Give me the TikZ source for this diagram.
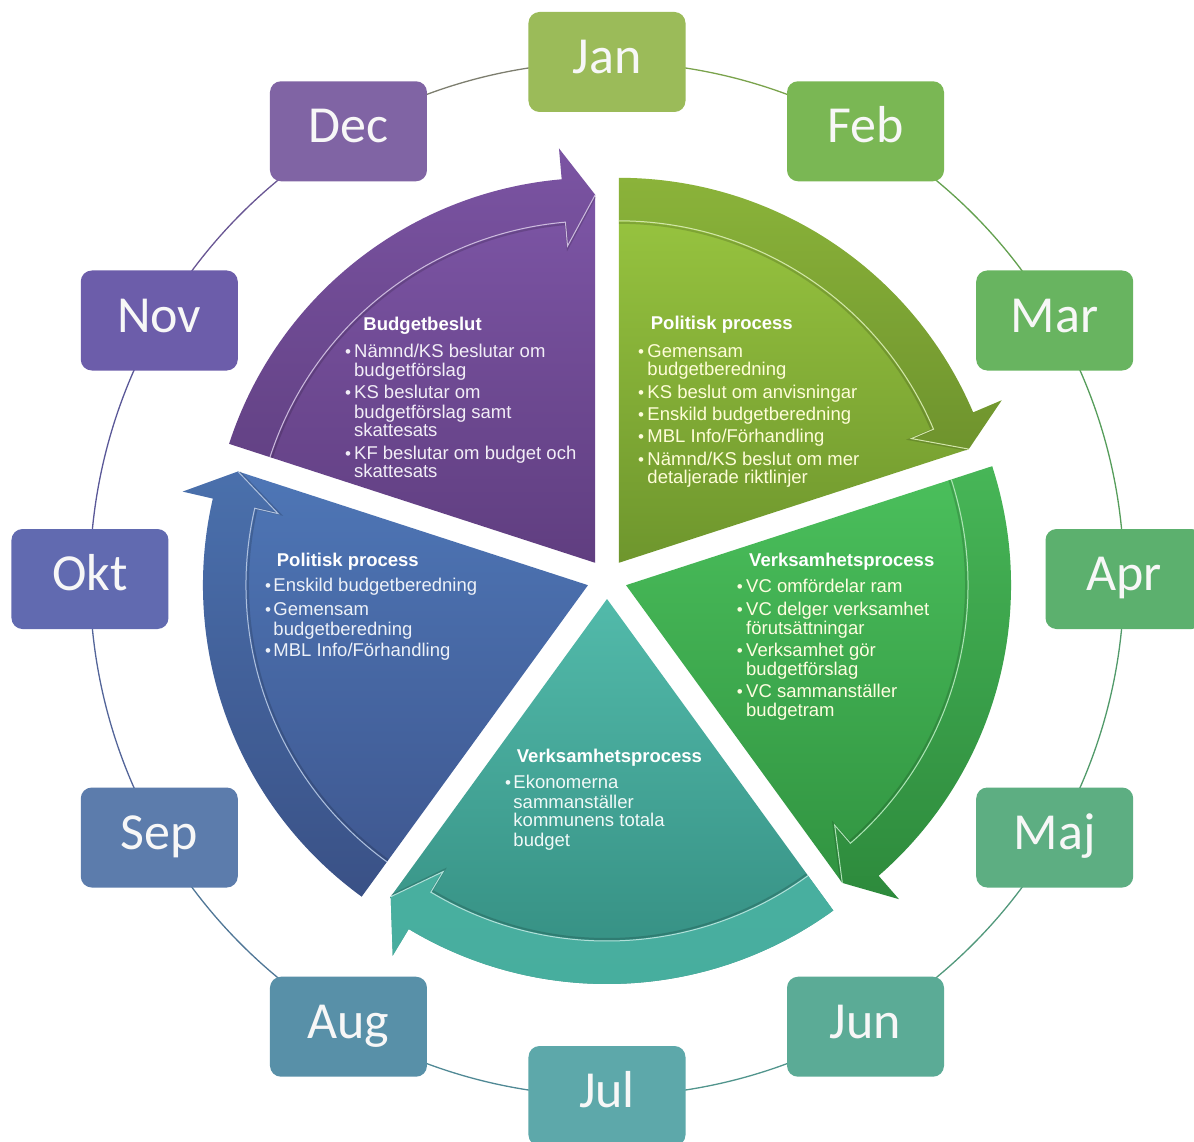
\documentclass[tikz,border=0pt]{standalone}
\usepackage{fontspec}
\setmainfont{Liberation Sans}
\newfontfamily\monthfont{Carlito}
\usetikzlibrary{calc}
\pgfdeclarelayer{background}
\pgfsetlayers{background,main}

% month colours
\definecolor{mjan}{RGB}{155,187,89}
\definecolor{mfeb}{RGB}{122,183,84}
\definecolor{mmar}{RGB}{104,180,96}
\definecolor{mapr}{RGB}{92,176,110}
\definecolor{mmaj}{RGB}{93,174,130}
\definecolor{mjun}{RGB}{91,171,150}
\definecolor{mjul}{RGB}{93,168,170}
\definecolor{maug}{RGB}{88,144,168}
\definecolor{msep}{RGB}{92,124,172}
\definecolor{mokt}{RGB}{97,106,176}
\definecolor{mnov}{RGB}{108,93,170}
\definecolor{mdec}{RGB}{128,100,164}
% sector colours
\definecolor{pT}{RGB}{128,88,170}\definecolor{pB}{RGB}{96,62,128}
\definecolor{gT}{RGB}{155,200,65}\definecolor{gB}{RGB}{110,150,45}
\definecolor{hT}{RGB}{75,192,92}\definecolor{hB}{RGB}{48,146,64}
\definecolor{tT}{RGB}{82,186,170}\definecolor{tB}{RGB}{50,138,126}
\definecolor{tBand}{RGB}{74,178,162}
\definecolor{bT}{RGB}{78,118,182}\definecolor{bB}{RGB}{62,86,142}

\newcommand\drawsector[7]{%
  \pgfmathsetmacro\aone{#2+36}%
  \pgfmathsetmacro\atwo{#2-36}%
  \pgfmathsetmacro\abase{#2-31}%
  \coordinate (#1P) at (#2:20pt);
  \shade[top color=#3, bottom color=#4]
    (#1P) -- ($(#1P)+(\aone:385pt)$)
    arc[start angle=\aone, end angle=\abase, radius=385pt]
    -- ($(#1P)+(\abase:416pt)$) -- ($(#1P)+(\atwo:368pt)$) -- cycle;
  \fill[#5, opacity=#6]
    ($(#1P)+(\aone:342pt)$) -- ($(#1P)+(\aone:385pt)$)
    arc[start angle=\aone, end angle=\abase, radius=385pt]
    -- ($(#1P)+(\abase:416pt)$) -- ($(#1P)+(\atwo:368pt)$)
    -- ($(#1P)+(\abase:318pt)$) -- ($(#1P)+(\abase:342pt)$)
    arc[start angle=\abase, end angle=\aone, radius=342pt] -- cycle;
  \draw[black, opacity=0.15, line width=2pt]
    ($(#1P)+(\aone:340pt)$) arc[start angle=\aone, end angle=\abase, radius=340pt]
    -- ($(#1P)+(\abase:316pt)$) -- ($(#1P)+(\atwo:366pt)$);
  \draw[#7, line width=1pt]
    ($(#1P)+(\aone:342pt)$) arc[start angle=\aone, end angle=\abase, radius=342pt]
    -- ($(#1P)+(\abase:318pt)$) -- ($(#1P)+(\atwo:368pt)$);
}

\newcommand\bl[5]{% name, bullet x, text x, baseline y, text
  \node[bul] (#1b) at (#2,#4) {•};
  \node[tln] (#1) at (#3,#4) {#5};}
\newcommand\cl[4]{% name, x, y, text
  \node[tln] (#1) at (#2,#3) {#4};}

\tikzset{
  monthbox/.style={rectangle, rounded corners=11pt, minimum width=157pt,
    minimum height=100pt, inner sep=0pt, text=white!97!black,
    font=\monthfont\fontsize{52}{52}\selectfont, text height=23pt, text depth=0pt},
  ring/.style={line width=1.3pt},
  ttl/.style={anchor=base west, inner sep=0pt, font=\fontsize{18.5}{20}\selectfont\bfseries},
  tln/.style={anchor=base west, inner sep=0pt, font=\fontsize{18.5}{20}\selectfont},
  bul/.style={anchor=base west, inner sep=0pt, font=\fontsize{17}{20}\selectfont},
}

\begin{document}
\begin{tikzpicture}[x=1pt,y=1pt]
\useasboundingbox (-607,-562) rectangle (587,579);

% month boxes
\node[monthbox, fill=mjan] (jan) at (90:517pt) {Jan};
\node[monthbox, fill=mfeb] (feb) at (60:517pt) {Feb};
\node[monthbox, fill=mmar] (mar) at (30:517pt) {Mar};
\node[monthbox, fill=mapr] (apr) at (0:517pt) {Apr};
\node[monthbox, fill=mmaj] (maj) at (-30:517pt) {Maj};
\node[monthbox, fill=mjun] (jun) at (-60:517pt) {Jun};
\node[monthbox, fill=mjul] (jul) at (-90:517pt) {Jul};
\node[monthbox, fill=maug] (aug) at (-120:517pt) {Aug};
\node[monthbox, fill=msep] (sep) at (-150:517pt) {Sep};
\node[monthbox, fill=mokt] (okt) at (180:517pt) {Okt};
\node[monthbox, fill=mnov] (nov) at (150:517pt) {Nov};
\node[monthbox, fill=mdec] (dec) at (120:517pt) {Dec};

\begin{pgfonlayer}{background}
\fill[white] (-607,-562) rectangle (587,579);
\foreach \a/\b/\ang in {jan/feb/90, feb/mar/60, mar/apr/30, apr/maj/0,
    maj/jun/-30, jun/jul/-60, jul/aug/-90, aug/sep/-120, sep/okt/-150,
    okt/nov/180, nov/dec/150, dec/jan/120}{
  \draw[ring, color=m\a!50!m\b!88!black]
    (\a.center) arc[start angle=\ang, delta angle=-30, radius=517pt];
}
\end{pgfonlayer}

% sectors
\drawsector{p}{126}{pT}{pB}{black}{0.04}{white!60!pT}
\drawsector{g}{54}{gT}{gB}{black}{0.10}{white!55!gT}
\drawsector{h}{-18}{hT}{hB}{black}{0.05}{white!55!hT}
\drawsector{t}{-90}{tT}{tB}{tBand}{0.9}{white!55!tT}
\drawsector{b}{198}{bT}{bB}{black}{0.05}{white!55!bT}

% texts (image coordinates)
\begin{scope}[x=1pt,y=-1pt,shift={(-607pt,579pt)}]
\begin{scope}[every node/.append style={text=white!90!pT}]
\node[ttl, text=white] (p-t) at (363.3,330.7) {Budgetbeslut};
\bl{p-l1}{345}{354}{357.3}{Nämnd/KS beslutar om}
\cl{p-l2}{354}{376}{budgetförslag}
\bl{p-l3}{345}{354}{398.3}{KS beslutar om}
\cl{p-l4}{354}{418.3}{budgetförslag samt}
\cl{p-l5}{354}{436.7}{skattesats}
\bl{p-l6}{345}{354}{459}{KF beslutar om budget och}
\cl{p-l7}{354}{477.3}{skattesats}
\end{scope}
\begin{scope}[every node/.append style={text=white!85!yellow}]
\node[ttl, text=white] (g-t) at (650.7,330) {Politisk process};
\bl{g-l1}{638}{647.3}{357.3}{Gemensam}
\cl{g-l2}{647.3}{375}{budgetberedning}
\bl{g-l3}{638}{647.3}{398.3}{KS beslut om anvisningar}
\bl{g-l4}{638}{647.3}{420}{Enskild budgetberedning}
\bl{g-l5}{638}{647.3}{442.7}{MBL Info/Förhandling}
\bl{g-l6}{638}{647.3}{465}{Nämnd/KS beslut om mer}
\cl{g-l7}{647.3}{483.3}{detaljerade riktlinjer}
\end{scope}
\begin{scope}[every node/.append style={text=white!88!yellow}]
\node[ttl, text=white] (h-t) at (749,566) {Verksamhetsprocess};
\bl{h-l1}{736.7}{746}{592.7}{VC omfördelar ram}
\bl{h-l2}{736.7}{746}{615}{VC delger verksamhet}
\cl{h-l3}{746}{634}{förutsättningar}
\bl{h-l4}{736.7}{746}{656}{Verksamhet gör}
\cl{h-l5}{746}{675}{budgetförslag}
\bl{h-l6}{736.7}{746}{697.3}{VC sammanställer}
\cl{h-l7}{746}{716.7}{budgetram}
\end{scope}
\begin{scope}[every node/.append style={text=white!92!tT}]
\node[ttl, text=white] (t-t) at (516.7,762.7) {Verksamhetsprocess};
\bl{t-l1}{505}{513.3}{788.3}{Ekonomerna}
\cl{t-l2}{513.3}{808.3}{sammanställer}
\cl{t-l3}{513.3}{826.7}{kommunens totala}
\cl{t-l4}{513.3}{846}{budget}
\end{scope}
\begin{scope}[every node/.append style={text=white!90!bT}]
\node[ttl, text=white] (b-t) at (276.7,566) {Politisk process};
\bl{b-l1}{265}{273.3}{591.7}{Enskild budgetberedning}
\bl{b-l2}{265}{273.3}{615}{Gemensam}
\cl{b-l3}{273.3}{635}{budgetberedning}
\bl{b-l4}{265}{273.3}{656.7}{MBL Info/Förhandling}
\end{scope}
\end{scope}
\end{tikzpicture}
\end{document}
